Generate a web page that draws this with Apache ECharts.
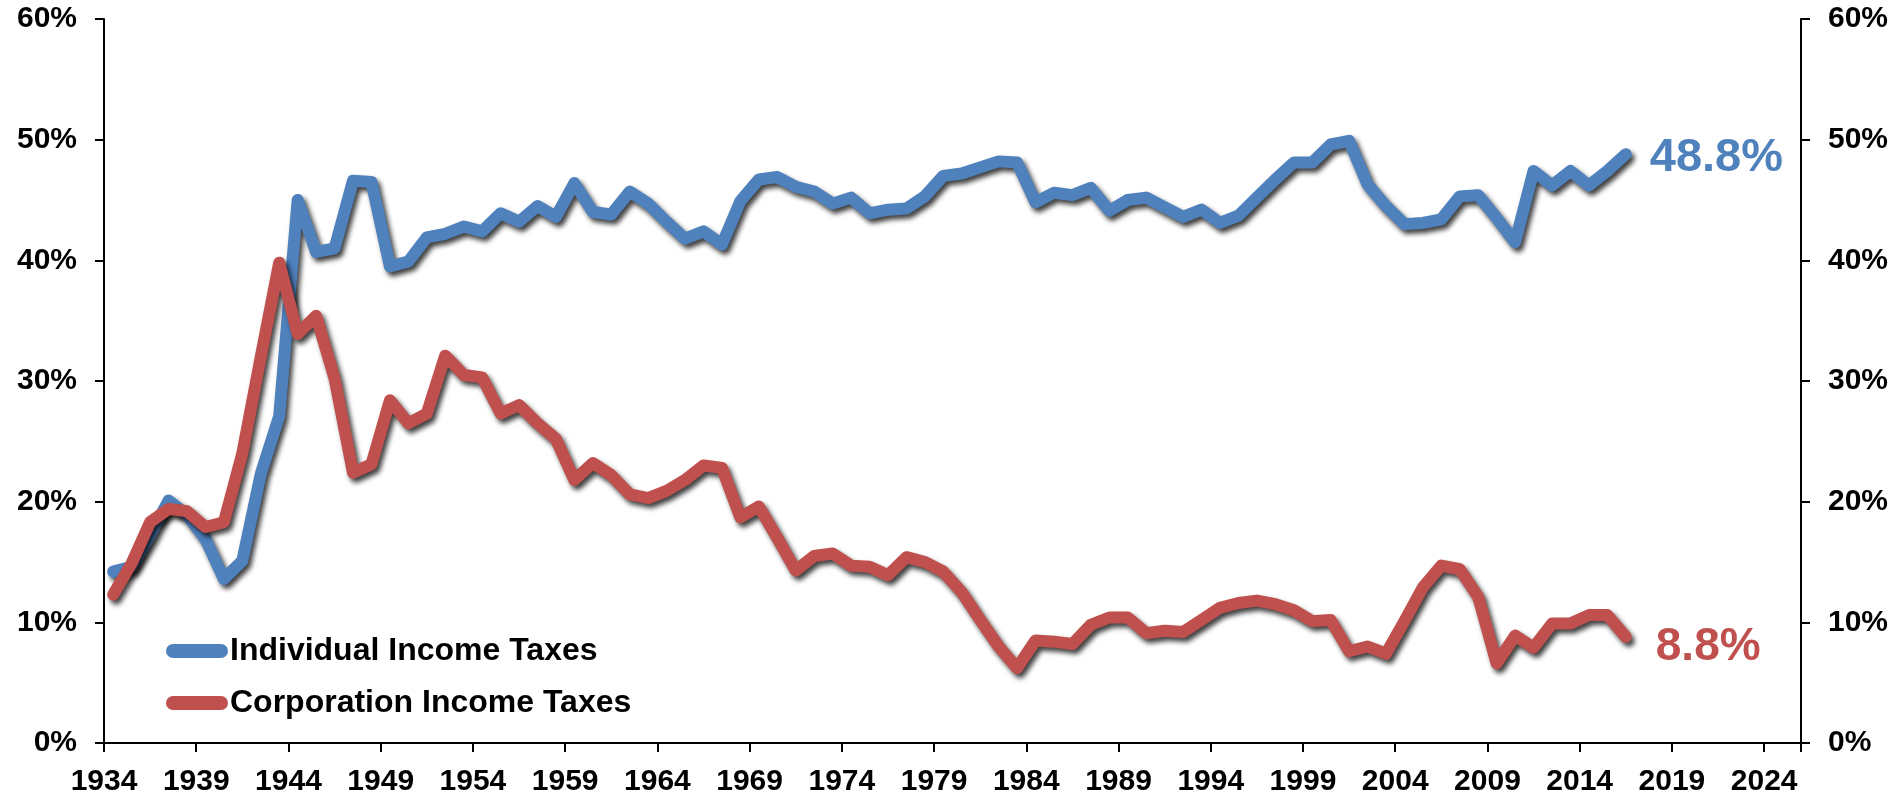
<!DOCTYPE html>
<html>
<head>
<meta charset="utf-8">
<title>Individual vs Corporation Income Taxes</title>
<script src="https://cdn.jsdelivr.net/npm/echarts@6/dist/echarts.min.js"></script>
<style>
  html, body { margin: 0; padding: 0; background: #fff; }
  #chart { width: 1899px; height: 798px; }
</style>
</head>
<body>
<div id="chart"></div>
<script>
// x axis runs 1934..2025 (one band per year), labels every 5 years
const firstYear = 1934;
const lastYear = 2025;
const years = [];
for (let y = firstYear; y <= lastYear; y++) years.push(String(y));

// share of federal receipts, %, 1934..2016
const individualTaxes = [
  14.2, 14.6, 17.2, 20.1, 18.9, 16.9, 13.6, 15.1, 22.3, 27.1,
  45.0, 40.7, 41.0, 46.6, 46.5, 39.5, 39.9, 41.9, 42.2, 42.8,
  42.4, 43.9, 43.2, 44.5, 43.6, 46.4, 44.0, 43.8, 45.7, 44.7,
  43.2, 41.8, 42.4, 41.3, 44.9, 46.7, 46.9, 46.1, 45.7, 44.7,
  45.2, 43.9, 44.2, 44.3, 45.3, 47.0, 47.2, 47.7, 48.2, 48.1,
  44.8, 45.6, 45.4, 46.0, 44.1, 45.0, 45.2, 44.4, 43.6, 44.2,
  43.1, 43.7, 45.2, 46.7, 48.1, 48.1, 49.6, 49.9, 46.3, 44.5,
  43.0, 43.1, 43.4, 45.3, 45.4, 43.5, 41.5, 47.4, 46.2, 47.4,
  46.2, 47.4, 48.8
];

const corporationTaxes = [
  12.3, 14.9, 18.3, 19.4, 19.2, 17.9, 18.3, 24.0, 32.0, 39.8,
  33.9, 35.4, 30.2, 22.4, 23.1, 28.4, 26.5, 27.3, 32.1, 30.5,
  30.3, 27.3, 28.0, 26.5, 25.2, 21.8, 23.2, 22.2, 20.6, 20.3,
  20.9, 21.8, 23.0, 22.8, 18.7, 19.6, 17.0, 14.3, 15.5, 15.7,
  14.7, 14.6, 13.9, 15.4, 15.0, 14.2, 12.5, 10.2, 8.0, 6.2,
  8.5, 8.4, 8.2, 9.8, 10.4, 10.4, 9.1, 9.3, 9.2, 10.2,
  11.2, 11.6, 11.8, 11.5, 11.0, 10.1, 10.2, 7.6, 8.0, 7.4,
  10.1, 12.9, 14.7, 14.4, 12.1, 6.6, 8.9, 7.9, 9.9, 9.9,
  10.6, 10.6, 8.8
];

const seriesNames = ["Individual Income Taxes", "Corporation Income Taxes"];
const seriesColors = ["#4F81BD", "#C0504D"];

const fontFamily = "'Liberation Sans', Arial, sans-serif";
const capsuleIcon = "path://M7,0 H55 A7,7 0 0 1 55,14 H7 A7,7 0 0 1 7,0 Z";

const chart = echarts.init(document.getElementById("chart"));

const percentAxis = (position) => ({
  type: "value",
  position: position,
  min: 0,
  max: 60,
  interval: 10,
  axisLine: { show: true, lineStyle: { color: "#000", width: 2 } },
  axisTick: { show: true, length: 9, lineStyle: { color: "#000", width: 2 } },
  splitLine: { show: false },
  axisLabel: {
    formatter: "{value}%",
    color: "#000",
    fontSize: 30,
    fontWeight: "bold",
    fontFamily: fontFamily,
    margin: 27,
  },
});

const lineSeries = (name, values, color, labelSize, labelOffset) => ({
  name: name,
  type: "line",
  data: values,
  showSymbol: false,
  symbol: "none",
  lineStyle: {
    color: color,
    width: 12,
    cap: "round",
    join: "round",
    shadowColor: "rgba(0, 0, 0, 0.75)",
    shadowBlur: 5,
    shadowOffsetX: 3,
    shadowOffsetY: 4,
  },
  itemStyle: { color: color },
  endLabel: {
    show: true,
    formatter: (p) => p.value.toFixed(1) + "%",
    color: color,
    fontSize: labelSize,
    fontWeight: "bold",
    fontFamily: fontFamily,
    distance: 22,
    offset: labelOffset,
  },
  emphasis: { disabled: true },
});

const option = {
  animation: false,
  backgroundColor: "#fff",
  grid: {
    left: 104,
    right: 98,
    top: 19,
    bottom: 55,
    containLabel: false,
  },
  legend: {
    orient: "vertical",
    left: 161,
    top: 630,
    itemWidth: 62,
    itemHeight: 14,
    itemGap: 20,
    icon: capsuleIcon,
    textStyle: {
      color: "#000",
      fontSize: 32,
      fontWeight: "bold",
      fontFamily: fontFamily,
      padding: [0, 0, 0, -3],
    },
    data: seriesNames,
  },
  xAxis: {
    type: "category",
    data: years,
    boundaryGap: true,
    axisLine: { show: true, lineStyle: { color: "#000", width: 2 } },
    axisTick: {
      show: true,
      interval: 4,
      alignWithLabel: false,
      length: 9,
      lineStyle: { color: "#000", width: 2 },
    },
    axisLabel: {
      interval: 4,
      color: "#000",
      fontSize: 30,
      fontWeight: "bold",
      fontFamily: fontFamily,
      margin: 24,
      // labels sit on the band edge tick, not the band centre
      padding: [0, 18.4, 0, 0],
    },
    splitLine: { show: false },
  },
  yAxis: [percentAxis("left"), percentAxis("right")],
  series: [
    lineSeries(seriesNames[0], individualTaxes, seriesColors[0], 47, [2, 4]),
    lineSeries(seriesNames[1], corporationTaxes, seriesColors[1], 46, [8, 10]),
  ],
};

chart.setOption(option);
</script>
</body>
</html>
